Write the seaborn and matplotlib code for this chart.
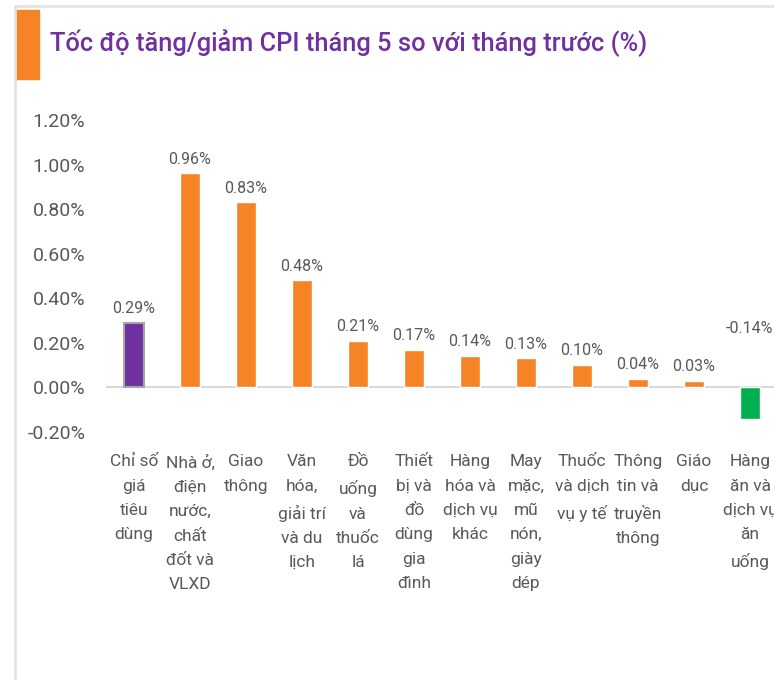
import pandas as pd
import matplotlib
matplotlib.use("Agg")
import matplotlib.pyplot as plt
import seaborn as sns
from matplotlib.lines import Line2D
from matplotlib.patches import Rectangle

categories = [
    "Chỉ số\ngiá\ntiêu\ndùng",
    "Nhà ở,\nđiện\nnước,\nchất\nđốt và\nVLXD",
    "Giao\nthông",
    "Văn\nhóa,\ngiải trí\nvà du\nlịch",
    "Đồ\nuống\nvà\nthuốc\nlá",
    "Thiết\nbị và\nđồ\ndùng\ngia\nđình",
    "Hàng\nhóa và\ndịch vụ\nkhác",
    "May\nmặc,\nmũ\nnón,\ngiày\ndép",
    "Thuốc\nvà dịch\nvụ y tế",
    "Thông\ntin và\ntruyền\nthông",
    "Giáo\ndục",
    "Hàng\năn và\ndịch vụ\năn\nuống",
]
values = [0.29, 0.96, 0.83, 0.48, 0.21, 0.17, 0.14, 0.13, 0.10, 0.04, 0.03, -0.14]
bar_colors = ["#7030A0"] + ["#F58426"] * 10 + ["#00B050"]
yticks = [-0.2, 0.0, 0.2, 0.4, 0.6, 0.8, 1.0, 1.2]

sns.set_style("white")
plt.rcParams["font.family"] = ["Roboto", "DejaVu Sans"]
text_color = "#595959"

df = pd.DataFrame({"cat": categories, "val": values})

fig = plt.figure(figsize=(7.74, 6.8), dpi=100)
ax = fig.add_axes([106 / 774, 248 / 680, 672 / 774, 312 / 680])

sns.barplot(data=df, x="cat", y="val", hue="cat", palette=bar_colors,
            legend=False, width=0.36, ax=ax, saturation=1)
# grey outline on the headline CPI bar
ax.patches[0].set_edgecolor("#A6A6A6")
ax.patches[0].set_linewidth(1.5)

ax.set_ylim(-0.2, 1.2)
ax.set_xlim(-0.5, len(categories) - 0.5)
ax.set_yticks(yticks)
ax.set_yticklabels([f"{t:.2f}%" for t in yticks], fontsize=14, color=text_color)
ax.set_xticks(range(len(categories)))
ax.set_xticklabels(categories, fontsize=12.5, color=text_color, linespacing=1.78)
ax.tick_params(axis="both", length=0)
ax.tick_params(axis="x", pad=16)
ax.tick_params(axis="y", pad=15)
ax.set_xlabel("")
ax.set_ylabel("")
for s in ax.spines.values():
    s.set_visible(False)
ax.axhline(0, color="#D9D9D9", linewidth=1.5, zorder=0)

for i, v in enumerate(values):
    if v >= 0:
        ax.annotate(f"{v:.2f}%", (i, v), xytext=(0, 5), textcoords="offset points",
                    ha="center", va="bottom", fontsize=11.5, color=text_color)
    else:
        ax.annotate(f"{v:.2f}%", (i, 0), xytext=(0, 37), textcoords="offset points",
                    ha="center", va="bottom", fontsize=11.5, color=text_color)

# frame, accent block and title
fig.add_artist(Line2D([15 / 774, 1], [1 - 6 / 680, 1 - 6 / 680], color="#E3E3E3", linewidth=2))
fig.add_artist(Line2D([15 / 774, 15 / 774], [0, 1 - 6 / 680], color="#E3E3E3", linewidth=2))
fig.add_artist(Rectangle((16 / 774, 1 - 79 / 680), 23 / 774, 69 / 680,
                         transform=fig.transFigure, color="#F58426"))
fig.text(50 / 774, 1 - 43 / 680, "Tốc độ tăng/giảm CPI tháng 5 so với tháng trước (%)",
         fontsize=18.3, color="#7030A0", fontweight="medium", va="center", ha="left")

fig.savefig("out.png", dpi=100)
